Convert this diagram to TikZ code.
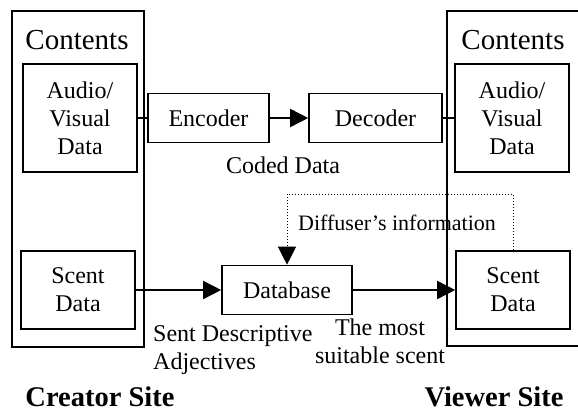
\documentclass[tikz,border=0pt]{standalone}
\usepackage{fontspec}
\setmainfont{Liberation Serif}
\usetikzlibrary{arrows.meta}
\begin{document}
\begin{tikzpicture}[x=1pt,y=-1pt,
  box/.style={draw,line width=1.6pt,inner sep=0pt,align=center,font=\fontsize{24}{28}\selectfont},
  lbl/.style={inner sep=0pt,align=center,font=\fontsize{24}{28}\selectfont},
  conn/.style={line width=1.6pt,-{Triangle[length=18pt,width=18pt]}},
  plain/.style={line width=1.6pt},
  dotl/.style={line width=0.9pt,dash pattern=on 1pt off 2pt},
  sitel/.style={inner sep=0pt,anchor=base,font=\fontsize{28.5}{32}\selectfont\bfseries}]
\useasboundingbox (0,0) rectangle (578,412);
\clip (0,0) rectangle (578,412);
% outer site boxes
\node[box,minimum width=132pt,minimum height=336pt] (lout) at (78,179) {};
\node[box,minimum width=150pt,minimum height=335pt] (rout) at (522,178.5) {};
\node[lbl,font=\fontsize{29}{32}\selectfont] (lcont) at (77,40) {Contents};
\node[lbl,font=\fontsize{29}{32}\selectfont] (rcont) at (513,40) {Contents};
% top row
\node[box,minimum width=114pt,minimum height=108pt] (lav) at (80,118) {Audio/\\Visual\\Data};
\node[box,minimum width=121pt,minimum height=49pt] (enc) at (208.5,118) {Encoder};
\node[box,minimum width=133pt,minimum height=49pt] (dec) at (375.5,118) {Decoder};
\node[box,minimum width=114pt,minimum height=108pt] (rav) at (512,118) {Audio/\\Visual\\Data};
\node[lbl] (coded) at (283,165) {Coded Data};
% bottom row
\node[box,minimum width=114pt,minimum height=78pt] (lsc) at (78,290) {Scent\\Data};
\node[box,minimum width=130pt,minimum height=49pt] (db) at (287,290) {Database};
\node[box,minimum width=114pt,minimum height=78pt] (rsc) at (513,290) {Scent\\Data};
\node[lbl,anchor=west,font=\fontsize{22}{26}\selectfont] (diff) at (298,223) {Diffuser’s information};
\node[lbl,anchor=north west,align=left] (sda) at (153,325) {Sent Descriptive\\Adjectives};
\node[lbl] (most) at (380,341) {The most\\suitable scent};
\node[sitel] (cs) at (100,406) {Creator Site};
\node[sitel] (vs) at (494,406) {Viewer Site};
% connectors
\draw[plain] (lav.east) -- (enc.west);
\draw[conn] (enc.east) -- (dec.west);
\draw[plain] (dec.east) -- (rav.west);
\draw[conn] (lsc.east) -- (db.west);
\draw[conn] (db.east) -- (rsc.west);
\coordinate (dcorner) at (513,194);
\coordinate (dtip) at ([yshift=18pt]db.north);
\draw[dotl] (rsc.north) -- (dcorner) -| (dtip);
\draw[conn,line width=0.9pt] (dtip) -- (db.north);
\end{tikzpicture}
\end{document}
